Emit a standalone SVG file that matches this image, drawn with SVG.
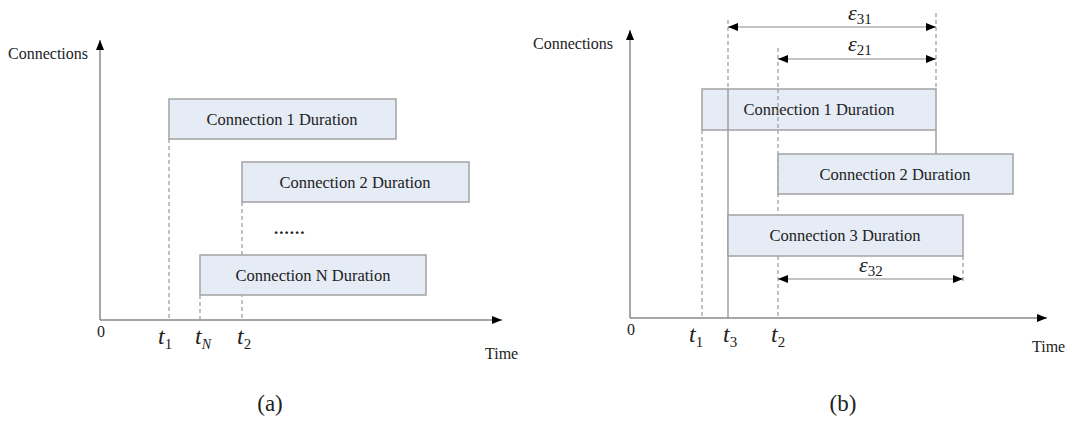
<svg xmlns="http://www.w3.org/2000/svg" width="1069" height="425" viewBox="0 0 1069 425">
<defs>
<marker id="ah" viewBox="0 0 10 8" refX="10" refY="4" markerWidth="10" markerHeight="8" markerUnits="userSpaceOnUse" orient="auto-start-reverse">
<path d="M0,0 L10,4 L0,8 z" fill="#000"/>
</marker>
<style>
.ax{stroke:#888;stroke-width:1.5;fill:none}
.dash{stroke:#999;stroke-width:1.2;stroke-dasharray:4,3;fill:none}
.sol{stroke:#999;stroke-width:1.4;fill:none}
.dim{stroke:#888;stroke-width:1.2;fill:none}
.box{fill:#e6ecf6;stroke:#a3a3a3;stroke-width:1.5}
.t{font-family:"Liberation Serif","Times New Roman",serif;fill:#222}
.bt{font-size:16.5px;text-anchor:middle}
.lab{font-size:16px}
.tv{font-size:24px;font-style:italic}
.ev{font-size:22px;font-style:italic}
.sub{font-size:15px;font-style:normal}
.subi{font-size:14px;font-style:italic}
</style>
</defs>
<rect width="1069" height="425" fill="#fff"/>

<g id="connectors">
<line class="ax" x1="100" y1="320" x2="100" y2="40" marker-end="url(#ah)"/>
<line class="ax" x1="100" y1="320" x2="502" y2="320" marker-end="url(#ah)"/>
<line class="dash" x1="169" y1="139" x2="169" y2="320"/>
<line class="dash" x1="242" y1="202" x2="242" y2="320"/>
<line class="dash" x1="200" y1="295" x2="200" y2="320"/>
<line class="ax" x1="630" y1="318" x2="630" y2="30" marker-end="url(#ah)"/>
<line class="ax" x1="630" y1="318" x2="1047" y2="318" marker-end="url(#ah)"/>
<line class="dash" x1="702" y1="130" x2="702" y2="318"/>
<line class="dash" x1="728" y1="20" x2="728" y2="89"/>
<line class="sol" x1="728" y1="130" x2="728" y2="318"/>
<line class="dash" x1="778" y1="48" x2="778" y2="89"/>
<line class="dash" x1="778" y1="130" x2="778" y2="318"/>
<line class="dash" x1="936" y1="13" x2="936" y2="89"/>
<line class="sol" x1="936" y1="130" x2="936" y2="154"/>
<line class="dash" x1="963" y1="256" x2="963" y2="284"/>
</g>

<g id="a-box1"><rect class="box" x="169" y="99" width="227" height="40"/><text class="t bt" x="282" y="125">Connection 1 Duration</text></g>
<g id="a-box2"><rect class="box" x="242" y="162" width="227" height="40"/><text class="t bt" x="355" y="188">Connection 2 Duration</text></g>
<g id="a-boxN"><rect class="box" x="200" y="255" width="226" height="40"/><text class="t bt" x="313" y="281">Connection N Duration</text></g>
<g id="a-dots"><text class="t" x="274" y="234" font-size="17" letter-spacing="1" font-weight="bold">......</text></g>

<g id="b-box1"><rect class="box" x="702" y="89" width="234" height="41"/><text class="t bt" x="819" y="115">Connection 1 Duration</text></g>
<g id="b-box2"><rect class="box" x="778" y="154" width="235" height="40"/><text class="t bt" x="895" y="180">Connection 2 Duration</text></g>
<g id="b-box3"><rect class="box" x="728" y="215" width="235" height="41"/><text class="t bt" x="845" y="241">Connection 3 Duration</text></g>

<g id="b-over">
<line class="sol" x1="728" y1="89" x2="728" y2="130"/>
<line class="dash" x1="778" y1="89" x2="778" y2="130"/>
</g>

<g id="dims">
<line class="dim" x1="728" y1="27" x2="936" y2="27" marker-start="url(#ah)" marker-end="url(#ah)"/>
<line class="dim" x1="778" y1="59" x2="936" y2="59" marker-start="url(#ah)" marker-end="url(#ah)"/>
<line class="dim" x1="778" y1="279" x2="963" y2="279" marker-start="url(#ah)" marker-end="url(#ah)"/>
<text class="t ev" x="848" y="20">ε<tspan class="sub" dy="4">31</tspan></text>
<text class="t ev" x="848" y="51">ε<tspan class="sub" dy="4">21</tspan></text>
<text class="t ev" x="859" y="272">ε<tspan class="sub" dy="4">32</tspan></text>
</g>

<g id="labels">
<text class="t lab" x="8" y="59">Connections</text>
<text class="t lab" x="533" y="49">Connections</text>
<text class="t lab" x="485" y="359">Time</text>
<text class="t lab" x="1032" y="352">Time</text>
<text class="t lab" x="101" y="337" text-anchor="middle">0</text>
<text class="t lab" x="631" y="335" text-anchor="middle">0</text>
<text class="t tv" x="158" y="344">t<tspan class="sub" dy="5">1</tspan></text>
<text class="t tv" x="195" y="344">t<tspan class="subi" dy="5">N</tspan></text>
<text class="t tv" x="237" y="344">t<tspan class="sub" dy="5">2</tspan></text>
<text class="t tv" x="689" y="342">t<tspan class="sub" dy="5">1</tspan></text>
<text class="t tv" x="723" y="342">t<tspan class="sub" dy="5">3</tspan></text>
<text class="t tv" x="771" y="342">t<tspan class="sub" dy="5">2</tspan></text>
<text class="t" x="270" y="411" font-size="23" text-anchor="middle">(a)</text>
<text class="t" x="843" y="411" font-size="23" text-anchor="middle">(b)</text>
</g>
</svg>
